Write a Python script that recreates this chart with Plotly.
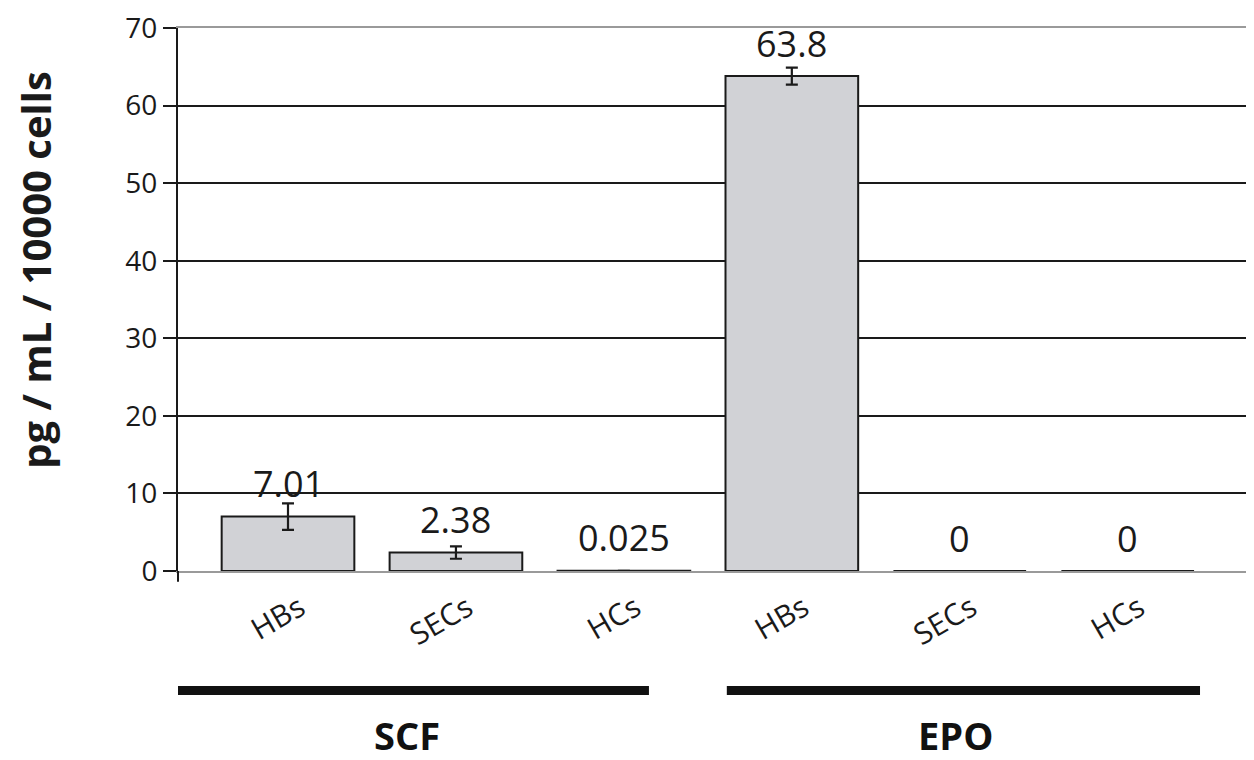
import plotly.graph_objects as go

# ---- data ----
groups = ["SCF", "EPO"]
cells = ["HBs", "SECs", "HCs"]
scf_values = [7.01, 2.38, 0.025]
scf_errors = [1.7, 0.8, 0.0]
epo_values = [63.8, 0.0, 0.0]
epo_errors = [1.1, 0.0, 0.0]
y_ticks = [0, 10, 20, 30, 40, 50, 60, 70]
y_title = "pg / mL / 10000 cells"

values = scf_values + epo_values
errors = scf_errors + epo_errors
labels = cells + cells
xpos = list(range(len(values)))

FONT = "Open Sans"
INK = "#1a1a1a"

fig = go.Figure()
fig.add_trace(go.Bar(
    x=xpos, y=values, width=0.79,
    marker=dict(color="#d1d2d6", line=dict(color=INK, width=2)),
    error_y=dict(type="data", array=errors, visible=True,
                 color=INK, thickness=2.2, width=6),
    hoverinfo="skip",
))

# data labels
for x, v in zip(xpos, values):
    fig.add_annotation(x=x, y=v, text=f"{v:g}", showarrow=False,
                       yanchor="middle", yshift=33,
                       font=dict(family=FONT, size=36, color=INK))

# group bars and labels
group_spans = [(0.0, 0.4385), (0.511, 0.9516)]
group_centers = [0.213, 0.7235]
for g, (a, b), c in zip(groups, group_spans, group_centers):
    fig.add_shape(type="line", xref="paper", yref="paper",
                  x0=a, x1=b, y0=-0.22, y1=-0.22,
                  line=dict(color="#111111", width=9))
    fig.add_annotation(xref="paper", yref="paper", x=c, y=-0.302,
                       text=f"<b>{g}</b>", showarrow=False,
                       yanchor="middle", xanchor="center",
                       font=dict(family=FONT, size=38, color="#111111"))

# right border (gray)
fig.add_shape(type="line", xref="paper", yref="paper", x0=1, x1=1, y0=0, y1=1,
              line=dict(color="#9a9a9a", width=1.5))
# small ticks below the category axis at both ends
for xe, col in [(0, INK), (1, "#777777")]:
    fig.add_shape(type="line", xref="paper", yref="paper", x0=xe, x1=xe,
                  y0=0, y1=-0.02, line=dict(color=col, width=2))

# y-axis title
fig.add_annotation(xref="paper", yref="paper", x=-0.133, y=0.555,
                   text=f"<b>{y_title}</b>", textangle=-90, showarrow=False,
                   xanchor="center", yanchor="middle",
                   font=dict(family=FONT, size=40, color=INK))

fig.update_layout(
    width=1246, height=752,
    margin=dict(l=170, r=2, t=20, b=189),
    paper_bgcolor="white", plot_bgcolor="white",
    showlegend=False,
    font=dict(family=FONT, color=INK),
    xaxis=dict(
        range=[-0.655, 5.74], automargin=False,
        tickmode="array", tickvals=[p + 0.07 for p in xpos], ticktext=labels,
        tickangle=-30, tickfont=dict(size=30, family=FONT),
        showgrid=False, zeroline=False,
        showline=True, linecolor="#9a9a9a", linewidth=1.5, mirror=True,
        ticks="", ticklabelstandoff=6,
    ),
    yaxis=dict(
        range=[0, 70], automargin=False, ticklabeloverflow="allow",
        tickmode="array", tickvals=y_ticks,
        tickfont=dict(size=28, family=FONT),
        showgrid=True, gridcolor=INK, gridwidth=2,
        zeroline=False,
        showline=True, linecolor=INK, linewidth=2,
        ticks="outside", ticklen=13, tickwidth=2, tickcolor=INK,
    ),
)

fig.write_html("out.html")
